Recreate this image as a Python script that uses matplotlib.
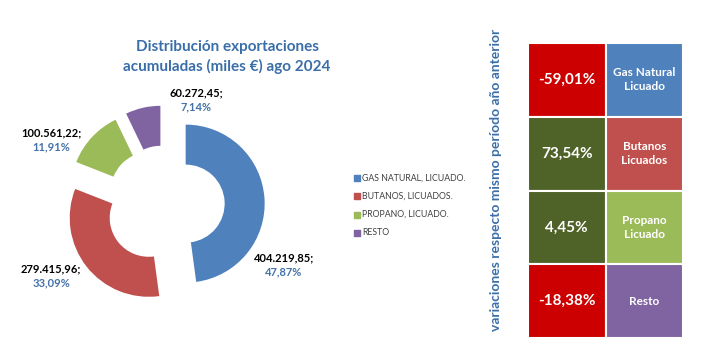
import matplotlib
matplotlib.use('Agg')
from matplotlib import pyplot as plt

# data
products = ['GAS NATURAL, LICUADO.', 'BUTANOS, LICUADOS.', 'PROPANO, LICUADO.', 'RESTO']
values = [404219.85, 279415.96, 100561.22, 60272.45]
short_names = ['Gas Natural\nLicuado', 'Butanos\nLicuados', 'Propano\nLicuado', 'Resto']
variations = [-59.01, 73.54, 4.45, -18.38]

colors = ['#4F81BD', '#C0504D', '#9BBB59', '#8064A2']
title_blue = '#3A6EA8'
pct_blue = '#4472A8'

plt.rcParams['font.family'] = ['Lato', 'DejaVu Sans']


def fmt_es(v, dec=2):
    s = '{:,.{}f}'.format(v, dec)
    return s.replace(',', 'X').replace('.', ',').replace('X', '.')


W, H = 717, 356
fig = plt.figure(figsize=(W / 100, H / 100), dpi=100)
ax = fig.add_axes([0, 0, 1, 1])

# donut, pixel units (y measured from bottom); explode is absolute here
cx, cy, R = 165, H - 205, 79
wedges, _ = ax.pie(values, colors=colors, startangle=90, counterclock=False,
                   radius=R, center=(cx, cy), explode=[20.7] * len(values),
                   wedgeprops=dict(width=40, linewidth=0))
ax.set_xlim(0, W)
ax.set_ylim(0, H)
ax.set_aspect('auto')
ax.axis('off')

total = sum(values)
label_pos = [(284, 258), (51, 269), (51, 133), (196, 93)]
for v, (lx, ly) in zip(values, label_pos):
    ax.text(lx, H - ly, fmt_es(v) + ';', ha='center', va='center',
            fontsize=8, fontweight='bold', color='black')
    ax.text(lx, H - ly - 14, fmt_es(100 * v / total) + '%', ha='center', va='center',
            fontsize=8, fontweight='bold', color=pct_blue)

ax.text(227, H - 47, 'Distribución exportaciones', ha='center', va='center',
        fontsize=11, fontweight='bold', color=title_blue)
ax.text(227, H - 66, 'acumuladas (miles €) ago 2024', ha='center', va='center',
        fontsize=11, fontweight='bold', color=title_blue)

# legend
for i, (name, c) in enumerate(zip(products, colors)):
    y = H - (178 + 18.3 * i)
    ax.scatter([357], [y], marker='s', s=14, color=c)
    ax.text(362, y, name, ha='left', va='center', fontsize=6.3, color='#404040')

ax.text(496, H - 180, 'variaciones respecto mismo período año anterior', rotation=90,
        ha='center', va='center', fontsize=10, fontweight='bold', color=title_blue)

# variation table
tx = fig.add_axes([528 / W, (H - 338) / H, (683 - 528) / W, (338 - 43) / H])
rows = list(range(len(variations)))
left_cols = ['#CC0000' if v < 0 else '#4F6228' for v in variations]
tx.barh(rows, [1] * len(rows), left=0, height=1, color=left_cols,
        edgecolor='white', linewidth=1.5)
tx.barh(rows, [1] * len(rows), left=1, height=1, color=colors,
        edgecolor='white', linewidth=1.5)
for r, v, n in zip(rows, variations, short_names):
    tx.text(0.5, r, fmt_es(v) + '%', ha='center', va='center', fontsize=11,
            fontweight='bold', color='white')
    tx.text(1.5, r, n, ha='center', va='center', fontsize=8.5,
            fontweight='bold', color='white', linespacing=1.35)
tx.set_xlim(0, 2)
tx.set_ylim(len(rows) - 0.5, -0.5)
tx.axis('off')

fig.savefig('out.png', dpi=100)
